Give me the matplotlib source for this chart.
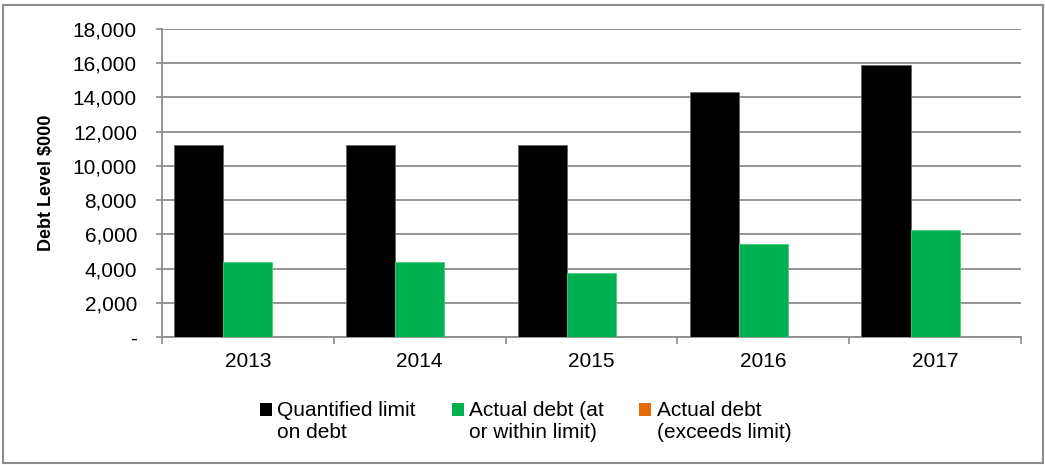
import matplotlib
matplotlib.use("Agg")
import matplotlib.pyplot as plt
from matplotlib.patches import Rectangle
from matplotlib.lines import Line2D
from matplotlib.path import Path
import matplotlib.ticker as mticker
import numpy as np

plt.rcParams['font.family'] = ['Liberation Sans', 'DejaVu Sans']

years = ['2013', '2014', '2015', '2016', '2017']
limit = [11200, 11200, 11200, 14300, 15900]
actual_ok = [4400, 4400, 3750, 5450, 6250]
actual_over = [0, 0, 0, 0, 0]

names = ['Quantified limit\non debt', 'Actual debt (at\nor within limit)', 'Actual debt\n(exceeds limit)']
colours = ['#000000', '#00B050', '#E46C0A']

fig = plt.figure(figsize=(10.45, 4.65), dpi=100)
ax = fig.add_axes([162 / 1045, 1 - 337 / 465, (1021 - 162) / 1045, (337 - 29) / 465])

x = np.arange(len(years))
w = 1 / 3.5
ax.bar(x - w, limit, w, color=colours[0], edgecolor='#666666', linewidth=0.6, zorder=3)
ax.bar(x, actual_ok, w, color=colours[1], edgecolor='#3cd07a', linewidth=0.6, zorder=3)
ax.bar(x + w, actual_over, w, color=colours[2], linewidth=0, zorder=3)

ax.set_xlim(-0.5, len(years) - 0.5)
ax.set_ylim(0, 18000)
ax.set_yticks(range(0, 18001, 2000))
ax.yaxis.set_major_formatter(mticker.FuncFormatter(lambda v, p: '-' if v == 0 else f'{int(v):,}'))
ax.yaxis.grid(True, color='#8c8c8c', linewidth=1.3, zorder=0)
ax.set_axisbelow(True)

ax.set_xticks(x)
ax.set_xticklabels(years)
ax.set_xticks(np.arange(-0.5, len(years), 1), minor=True)
ax.tick_params(axis='x', which='major', length=0, pad=11, labelsize=15)
ax.tick_params(axis='x', which='minor', length=5, width=1.2, color='#8c8c8c', direction='out')
ax.tick_params(axis='y', length=4, width=1.2, color='#8c8c8c', pad=14, labelsize=15)

for s in ['top', 'right']:
    ax.spines[s].set_visible(False)
for s in ['left', 'bottom']:
    ax.spines[s].set_color('#8c8c8c')
    ax.spines[s].set_linewidth(1.3)

ax.set_ylabel('Debt Level $000', fontsize=13, fontweight='bold')
ax.yaxis.set_label_coords(-0.124, 0.5)

# square sitting on the first text line of each two-line legend entry
sq = Path([(-0.5, 0.5), (0.5, 0.5), (0.5, 1.5), (-0.5, 1.5), (-0.5, 0.5)], closed=True)
handles = [Line2D([], [], marker=sq, linestyle='none', markersize=27, color=c, markeredgewidth=0)
           for c in colours]
fig.legend(handles, names, loc='upper center', bbox_to_anchor=(0.503, 0.16),
           ncol=3, frameon=False, fontsize=15, handlelength=0.6, handletextpad=0.25,
           columnspacing=1.7, borderpad=0)

fig.patches.append(Rectangle((3 / 1045, 2 / 465), 1040 / 1045, 458 / 465, transform=fig.transFigure,
                             fill=False, edgecolor='#8c8c8c', linewidth=1.5))

fig.savefig('out.png', dpi=100)
